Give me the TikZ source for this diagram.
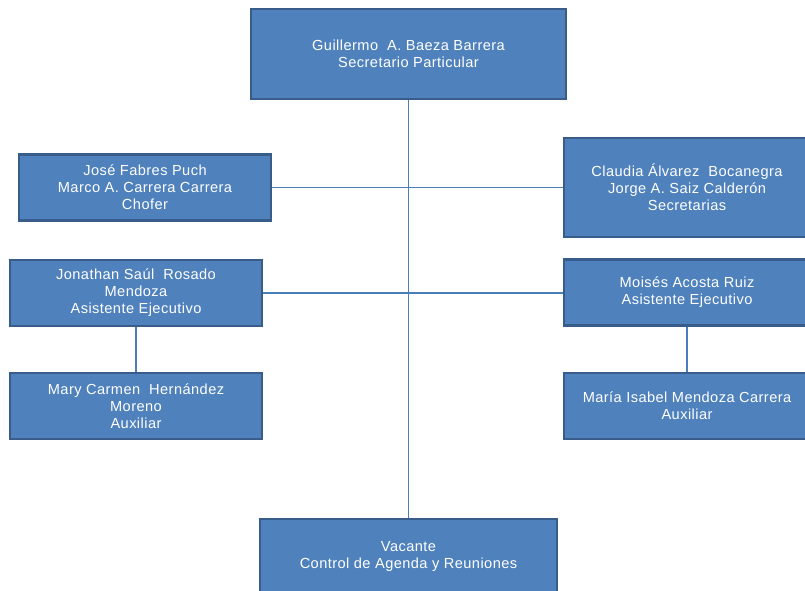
\documentclass[tikz,border=0pt]{standalone}
\usepackage{fontspec}
\setmainfont{Liberation Sans}[LetterSpace=3]
\definecolor{boxfill}{HTML}{4F81BD}
\definecolor{boxline}{HTML}{385D8A}
\definecolor{conn}{HTML}{4A7EBB}
\begin{document}
\begin{tikzpicture}[x=1pt,y=-1pt,
  orgbox/.style={draw=boxline, line width=2.2pt, fill=boxfill, text=white,
    align=center, inner sep=0pt, font=\fontsize{14.6}{17}\selectfont},
  link/.style={draw=conn, line width=1.8pt}]
\useasboundingbox (0,0) rectangle (805,590);
\clip (0,0) rectangle (805,590);
\node[orgbox, minimum width=315pt, minimum height=90pt] (top) at (408.5,54) {Guillermo\ \ A. Baeza Barrera\\Secretario Particular};
\node[orgbox, minimum width=252pt, minimum height=66pt] (l1) at (145,187.5) {José Fabres Puch\\Marco A. Carrera Carrera\\Chofer};
\node[orgbox, minimum width=246pt, minimum height=99pt] (r1) at (687,187.5) {Claudia Álvarez\ \ Bocanegra\\Jorge A. Saiz Calderón\\Secretarias};
\node[orgbox, minimum width=252pt, minimum height=66pt] (l2) at (136,293) {Jonathan Saúl\ \ Rosado\\Mendoza\\Asistente Ejecutivo};
\node[orgbox, minimum width=246pt, minimum height=66pt] (r2) at (687,292.5) {Moisés Acosta Ruiz\\Asistente Ejecutivo};
\node[orgbox, minimum width=252pt, minimum height=66pt] (l3) at (136,406) {Mary Carmen\ \ Hernández\\Moreno\\Auxiliar};
\node[orgbox, minimum width=246pt, minimum height=66pt] (r3) at (687,406) {María Isabel Mendoza Carrera\\Auxiliar};
\node[orgbox, minimum width=297pt, minimum height=74pt] (bot) at (408.5,556) {Vacante\\Control de Agenda y Reuniones};
\draw[link] (top.south) -- (bot.north);
\draw[link] (l1.east) -- (r1.west);
\draw[link] (l2.east) -- (r2.west |- l2.east);
\draw[link] (l2.south) -- (l3.north);
\draw[link] (r2.south) -- (r3.north);
\end{tikzpicture}
\end{document}
